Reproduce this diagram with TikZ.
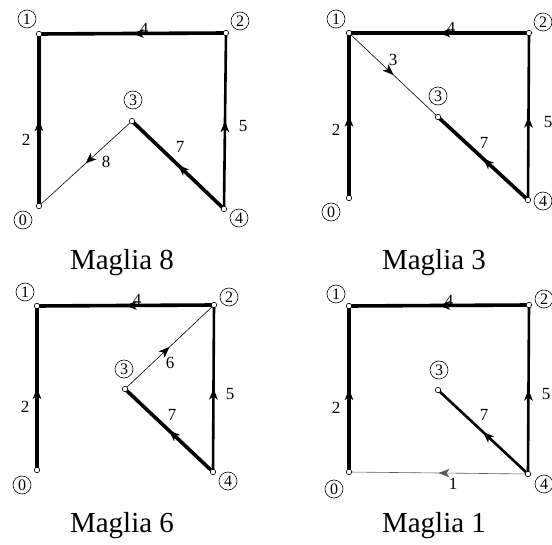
\documentclass[tikz,border=0pt]{standalone}
\usepackage{fontspec}
\setmainfont{Liberation Serif}
\usetikzlibrary{positioning, arrows.meta, decorations.markings}
\definecolor{cTree}{HTML}{000000}
\definecolor{cLink}{HTML}{5A5A5A}

\tikzset{
  vtx/.style={circle, draw, fill=white, inner sep=0pt, minimum size=5.5pt, line width=0.6pt},
  tag/.style={circle, draw, inner sep=0.5pt, minimum size=18pt, line width=0.6pt,
    font=\fontsize{16}{16}\selectfont},
  lbl/.style={inner sep=0pt, font=\fontsize{17}{17}\selectfont},
  ttl/.style={anchor=base, inner sep=0pt, font=\fontsize{29}{29}\selectfont},
  mid/.style={postaction={decorate, decoration={markings,
    mark=at position 0.5 with {\arrow{Stealth[length=11pt, width=8.5pt, inset=3pt]}}}}},
  twig/.style={cTree, line width=3.6pt, mid},
  twigs/.style={cTree, line width=2.6pt, mid},
  link/.style={cTree, line width=0.6pt, mid},
}

\begin{document}
\begin{tikzpicture}[x=1pt, y=-1pt]
  \useasboundingbox (0,0) rectangle (552,545);

  % Maglia 8
  \coordinate (a0) at (39,206);  \coordinate (a1) at (39,34);
  \coordinate (a2) at (226,33);  \coordinate (a3) at (132,121);
  \coordinate (a4) at (224,209);
  \draw[twig] (a0) -- (a1);
  \draw[twig] (a2) -- (a1);
  \draw[twigs] (a4) -- (a2);
  \draw[twig] (a4) -- (a3);
  \draw[link] (a3) -- (a0);
  \foreach \v in {0,...,4} \node[vtx] (va\v) at (a\v) {};
  \node[tag] (ta1) at (27,19) {1};
  \node[tag] (ta2) at (240,21) {2};
  \node[tag] (ta3) at (133,100) {3};
  \node[tag] (ta0) at (23,220) {0};
  \node[tag] (ta4) at (239,218) {4};
  \node[lbl] (la4) at (144,29) {4};
  \node[lbl] (la2) at (26,140) {2};
  \node[lbl] (la5) at (243,126) {5};
  \node[lbl] (la7) at (180,147) {7};
  \node[lbl] (la8) at (106,162) {8};
  \node[ttl] (ma) at (122,270) {Maglia 8};

  % Maglia 3
  \coordinate (b0) at (349,198);  \coordinate (b1) at (349,33);
  \coordinate (b2) at (529,33);   \coordinate (b3) at (438,117);
  \coordinate (b4) at (528,200);
  \draw[twig] (b0) -- (b1);
  \draw[twig] (b2) -- (b1);
  \draw[twigs] (b4) -- (b2);
  \draw[twig] (b4) -- (b3);
  \draw[link] (b1) -- (b3);
  \foreach \v in {0,...,4} \node[vtx] (vb\v) at (b\v) {};
  \node[tag] (tb1) at (336,19) {1};
  \node[tag] (tb2) at (543,22) {2};
  \node[tag] (tb3) at (438,96) {3};
  \node[tag] (tb0) at (331,212) {0};
  \node[tag] (tb4) at (543,201) {4};
  \node[lbl] (lb4) at (451,28) {4};
  \node[lbl] (lb3) at (393,60) {3};
  \node[lbl] (lb2) at (336,130) {2};
  \node[lbl] (lb5) at (548,122) {5};
  \node[lbl] (lb7) at (484,143) {7};
  \node[ttl] (mb) at (434,270) {Maglia 3};

  % Maglia 6
  \coordinate (c0) at (37,470);  \coordinate (c1) at (37,306);
  \coordinate (c2) at (214,305); \coordinate (c3) at (125,389);
  \coordinate (c4) at (213,472);
  \draw[twig] (c0) -- (c1);
  \draw[twig] (c2) -- (c1);
  \draw[twigs] (c4) -- (c2);
  \draw[twig] (c4) -- (c3);
  \draw[link] (c3) -- (c2);
  \foreach \v in {0,...,4} \node[vtx] (vc\v) at (c\v) {};
  \node[tag] (tc1) at (25,292) {1};
  \node[tag] (tc2) at (229,297) {2};
  \node[tag] (tc3) at (124,369) {3};
  \node[tag] (tc0) at (22,485) {0};
  \node[tag] (tc4) at (228,481) {4};
  \node[lbl] (lc4) at (137,300) {4};
  \node[lbl] (lc6) at (170,363) {6};
  \node[lbl] (lc2) at (25,407) {2};
  \node[lbl] (lc5) at (230,394) {5};
  \node[lbl] (lc7) at (172,415) {7};
  \node[ttl] (mc) at (122,532) {Maglia 6};

  % Maglia 1
  \coordinate (d0) at (349,472);  \coordinate (d1) at (349,306);
  \coordinate (d2) at (529,305);  \coordinate (d3) at (438,390);
  \coordinate (d4) at (528,474);
  \draw[twig] (d0) -- (d1);
  \draw[twig] (d2) -- (d1);
  \draw[twigs] (d4) -- (d2);
  \draw[twigs] (d4) -- (d3);
  \draw[link, cLink] (d4) -- (d0);
  \foreach \v in {0,...,4} \node[vtx] (vd\v) at (d\v) {};
  \node[tag] (td1) at (336,294) {1};
  \node[tag] (td2) at (544,299) {2};
  \node[tag] (td3) at (439,370) {3};
  \node[tag] (td0) at (334,489) {0};
  \node[tag] (td4) at (544,484) {4};
  \node[lbl] (ld4) at (449,301) {4};
  \node[lbl] (ld2) at (336,408) {2};
  \node[lbl] (ld5) at (546,394) {5};
  \node[lbl] (ld7) at (484,415) {7};
  \node[lbl] (ld1) at (453,484) {1};
  \node[ttl] (md) at (434,532) {Maglia 1};
\end{tikzpicture}
\end{document}
